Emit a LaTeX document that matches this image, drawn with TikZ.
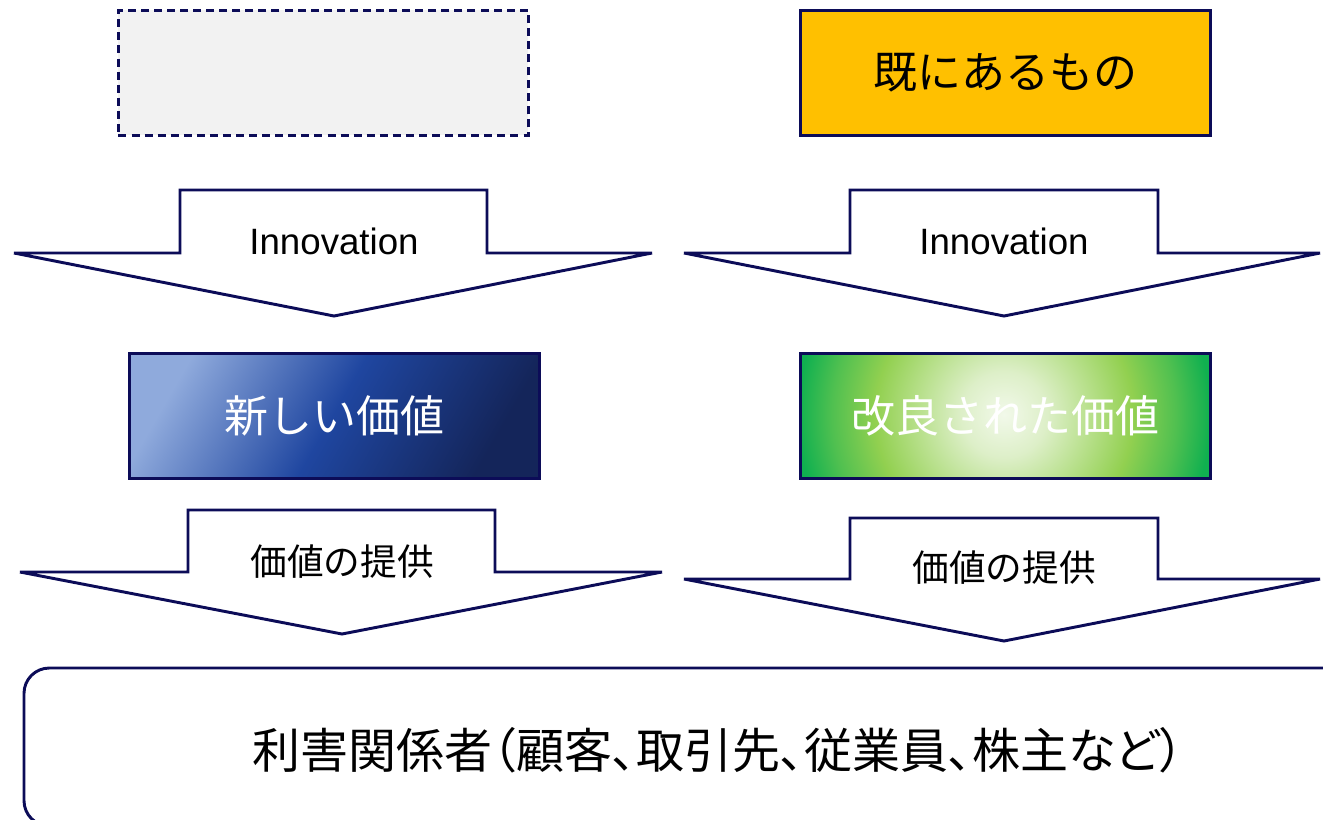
\documentclass[tikz,border=0pt]{standalone}
\usepackage{fontspec}
\setmainfont{Liberation Sans}
\newfontfamily\jp{Noto Sans CJK JP}
\newfontfamily\jpp[RawFeature=+palt]{Noto Sans CJK JP}
\definecolor{navy}{HTML}{0C0C58}
\definecolor{lightgrey}{HTML}{F2F2F2}
\definecolor{gold}{HTML}{FFC000}
\definecolor{bluea}{HTML}{8FAADC}
\definecolor{blueb}{HTML}{1F46A0}
\definecolor{bluec}{HTML}{14255A}
\definecolor{greencore}{HTML}{F2F9EA}
\definecolor{greenpale}{HTML}{DDEFC8}
\definecolor{greenlight}{HTML}{B8E08C}
\definecolor{greenmid}{HTML}{92D050}
\definecolor{greendeep}{HTML}{50C050}
\definecolor{greenout}{HTML}{10B050}
\pgfdeclarehorizontalshading{bluefade}{100bp}{color(0bp)=(bluea); color(25bp)=(bluea); color(50bp)=(blueb); color(75bp)=(bluec); color(100bp)=(bluec)}
\pgfdeclareradialshading{greenglow}{\pgfpoint{0bp}{0bp}}{color(0bp)=(greencore); color(5bp)=(greenpale); color(10bp)=(greenlight); color(15bp)=(greenmid); color(20bp)=(greendeep); color(24bp)=(greenout); color(50bp)=(greenout)}
\begin{document}
\begin{tikzpicture}[x=0.75pt,y=-0.75pt,
  outline/.style={draw=navy,line width=2.2pt},
  boxnode/.style={outline,minimum width=307.5pt,minimum height=93.75pt,inner sep=0pt},
  bigarrow/.style={outline,fill=white,line join=miter},
  arrowtext/.style={font=\fontsize{27.5pt}{30pt}\selectfont},
  jparrowtext/.style={font=\jp\fontsize{27.5pt}{30pt}\selectfont},
  jptext/.style={font=\jp\fontsize{33pt}{36pt}\selectfont}]
\useasboundingbox (0,0) rectangle (1323,819);
\clip (0,0) rectangle (1323,819);
% top boxes
\node[boxnode,fill=lightgrey,dashed,dash pattern=on 6pt off 3.8pt,anchor=north west] (empty) at (117,9) {};
\node[boxnode,fill=gold,anchor=north west,jptext] (existing) at (799,9) {既にあるもの};
% innovation arrows
\draw[bigarrow] (180,190) -- (487,190) -- (487,253) -- (652,253) -- (334,316) -- (14,253) -- (180,253) -- cycle;
\node[arrowtext] (inno1) at (334,241) {Innovation};
\draw[bigarrow] (850,190) -- (1158,190) -- (1158,253) -- (1320,253) -- (1004,316) -- (684,253) -- (850,253) -- cycle;
\node[arrowtext] (inno2) at (1004,241) {Innovation};
% value boxes
\shade[shading=bluefade,shading angle=-30] (128,352) rectangle (539,477);
\node[boxnode,anchor=north west,jptext,text=white] (newval) at (128,352) {新しい価値};
\begin{scope}
\clip (799,352) rectangle (1209,477);
\shade[shading=greenglow] (1004,414.5) circle (215);
\end{scope}
\node[boxnode,anchor=north west,jptext,text=white] (impval) at (799,352) {改良された価値};
% provision arrows
\draw[bigarrow] (188,510) -- (495,510) -- (495,572) -- (662,572) -- (342,634) -- (20,572) -- (188,572) -- cycle;
\node[jparrowtext] (prov1) at (342,562) {価値の提供};
\draw[bigarrow] (850,518) -- (1158,518) -- (1158,579) -- (1320,579) -- (1004,641) -- (684,579) -- (850,579) -- cycle;
\node[jparrowtext] (prov2) at (1004,568) {価値の提供};
% stakeholders
\draw[outline,rounded corners=19pt] (24,668) -- (1380,668) -- (1380,826) -- (24,826) -- cycle;
\node[font=\jpp\fontsize{36pt}{38pt}\selectfont] (stake) at (718,750) {利害関係者（顧客、取引先、従業員、株主など）};
\end{tikzpicture}
\end{document}
